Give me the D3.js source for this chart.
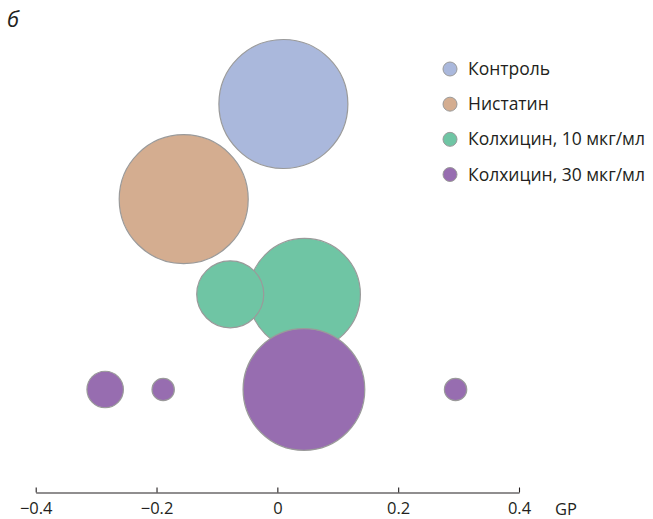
<!DOCTYPE html>
<html>
<head>
<meta charset="utf-8">
<script src="https://cdn.jsdelivr.net/npm/d3@7"></script>
<style>
  html, body { margin: 0; padding: 0; background: #fff; }
  svg text { font-family: "Open Sans", "Noto Sans", sans-serif; fill: #231f20; }
</style>
</head>
<body>
<svg id="chart" width="653" height="519"></svg>
<script>
// Treatment groups, one row each
const groups = ["Контроль", "Нистатин", "Колхицин, 10 мкг/мл", "Колхицин, 30 мкг/мл"];
const groupColors = ["#aab8dc", "#d4ad90", "#6fc5a4", "#976db0"];

// Bubbles: group index, GP value, relative size (%), listed in drawing order
const bubbleGroup = [0, 1, 2, 2, 3, 3, 3, 3];
const bubbleGP    = [0.010, -0.155, 0.045, -0.078, -0.285, -0.189, 0.044, 0.295];
const bubbleSize  = [100, 100, 75, 27, 8, 3, 89, 3];

// Axis ticks
const gpTicks = [-0.4, -0.2, 0, 0.2, 0.4];
const axisTitle = "GP";
const panelLabel = "б";

const svg = d3.select("#chart");

const x = d3.scaleLinear().domain([-0.4, 0.4]).range([35.7, 519]);
const y = d3.scalePoint().domain(groups).range([104, 389.5]);
const r = d3.scaleSqrt().domain([0, 100]).range([0, 64.5]);

const bubbles = bubbleGroup.map((g, i) => ({
  group: groups[g], color: groupColors[g], gp: bubbleGP[i], size: bubbleSize[i]
}));

svg.append("g")
  .selectAll("circle")
  .data(bubbles)
  .join("circle")
  .attr("cx", d => x(d.gp))
  .attr("cy", d => y(d.group))
  .attr("r", d => r(d.size))
  .attr("fill", d => d.color)
  .attr("stroke", "#9a9a9a")
  .attr("stroke-width", 1.2);

// GP axis: ticks point up, labels below
const axisY = 492.5;
const tickFont = 16.5;
const axis = d3.axisBottom(x)
  .tickValues(gpTicks)
  .tickSizeInner(-5)
  .tickSizeOuter(0)
  .tickPadding(10)
  .tickFormat(d => d === 0 ? "0" : d3.format(".1f")(d));

const ag = svg.append("g")
  .attr("transform", `translate(0,${axisY})`)
  .call(axis);
ag.selectAll("path, line").attr("stroke", "#231f20").attr("stroke-width", 1.1);
ag.selectAll("text").attr("font-size", tickFont).style("fill", "#231f20")
  .attr("font-family", "'Open Sans', 'Noto Sans', sans-serif");

svg.append("text")
  .attr("x", 555).attr("y", 514.5)
  .attr("font-size", tickFont)
  .text(axisTitle);

// Panel letter
svg.append("text")
  .attr("x", 7).attr("y", 27)
  .attr("font-size", 22)
  .attr("font-style", "italic")
  .text(panelLabel);

// Legend
const legend = svg.append("g");
const ly = d3.scalePoint().domain(groups).range([69, 174.5]);
const items = legend.selectAll("g")
  .data(groups)
  .join("g")
  .attr("transform", d => `translate(0,${ly(d)})`);
items.append("circle")
  .attr("cx", 450).attr("cy", 0).attr("r", 7)
  .attr("fill", (d, i) => groupColors[i])
  .attr("stroke", "#9a9a9a")
  .attr("stroke-width", 1);
items.append("text")
  .attr("x", 468).attr("y", 0).attr("dy", "0.35em")
  .attr("font-size", 17.5)
  .text(d => d);
</script>
</body>
</html>
